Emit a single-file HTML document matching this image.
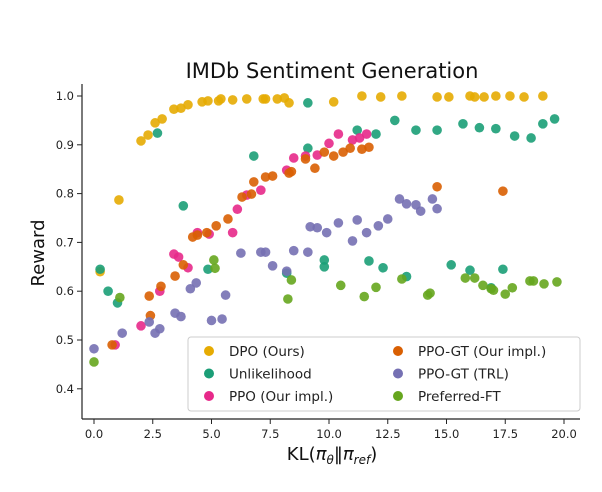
<!DOCTYPE html>
<html><head><meta charset="utf-8"><style>
body{margin:0;background:#fff;}
svg{display:block;font-family:"DejaVu Sans","Liberation Sans",sans-serif;}
</style></head><body>
<svg id="chart" width="602" height="492" xmlns="http://www.w3.org/2000/svg">
<text x="332" y="78" text-anchor="middle" font-size="21" fill="#111">IMDb Sentiment Generation</text>
<text transform="translate(44,253) rotate(-90)" text-anchor="middle" font-size="18" fill="#111">Reward</text>
<text x="332" y="460" text-anchor="middle" font-size="18" fill="#111">KL(<tspan font-style="italic">π</tspan><tspan font-size="12" dy="4" font-style="italic">θ</tspan><tspan dy="-4">‖</tspan><tspan font-style="italic">π</tspan><tspan font-size="12" dy="4" font-style="italic">ref</tspan><tspan dy="-4">)</tspan></text>
<g id="axes"></g>
<g id="marks"></g>
<g id="legend"></g>
</svg>
<script>
const xTicks=[0,2.5,5,7.5,10,12.5,15,17.5,20];
const yTicks=[0.4,0.5,0.6,0.7,0.8,0.9,1.0];
const seriesNames=["DPO (Ours)","Unlikelihood","PPO (Our impl.)","PPO-GT (Our impl.)","PPO-GT (TRL)","Preferred-FT"];
const seriesColors=["#e6ab02","#1b9e77","#e7298a","#d95f02","#7570b3","#66a61e"];
const dpoX=[0.26,1.06,2.0,2.3,2.6,2.9,3.4,3.7,4.0,4.6,4.85,5.3,5.4,5.9,6.5,7.2,7.3,7.8,8.1,8.3,10.2,11.4,12.2,13.1,14.6,15.1,16.0,16.2,16.6,17.1,17.7,18.3,19.1];
const dpoY=[0.64,0.787,0.908,0.92,0.945,0.953,0.973,0.975,0.982,0.988,0.99,0.99,0.994,0.992,0.994,0.994,0.994,0.994,0.996,0.986,0.988,1.0,0.998,1.0,0.998,0.998,1.0,0.998,0.998,1.0,1.0,0.998,1.0];
const unlX=[0.26,0.6,1.0,2.7,3.8,6.8,9.1,9.1,11.2,12.0,12.8,13.7,14.6,15.7,16.4,17.1,17.9,18.6,19.1,19.6,4.85,9.8,9.8,11.7,12.3,13.3,15.2,16.0,16.9,17.4,8.2];
const unlY=[0.645,0.6,0.576,0.924,0.775,0.877,0.986,0.893,0.93,0.922,0.95,0.93,0.93,0.943,0.935,0.933,0.918,0.914,0.943,0.953,0.645,0.65,0.664,0.662,0.648,0.63,0.654,0.643,0.607,0.645,0.637];
const ppoX=[0.9,2.0,2.8,3.4,3.6,4.0,4.4,4.9,5.9,6.1,6.5,7.1,8.2,8.5,9.0,9.5,10.0,10.4,11.0,11.3,11.6];
const ppoY=[0.49,0.529,0.6,0.676,0.67,0.648,0.72,0.717,0.72,0.768,0.797,0.807,0.848,0.873,0.877,0.879,0.903,0.922,0.91,0.914,0.922];
const gtX=[0.77,2.4,2.35,2.85,3.45,3.8,4.2,4.4,4.8,5.2,5.7,6.3,6.7,6.8,7.3,7.6,8.3,8.4,9.0,9.4,9.8,10.2,10.6,10.9,11.4,11.7,14.6,17.4];
const gtY=[0.49,0.55,0.59,0.61,0.631,0.654,0.711,0.715,0.72,0.734,0.748,0.793,0.799,0.824,0.834,0.836,0.842,0.845,0.871,0.852,0.885,0.877,0.885,0.893,0.891,0.895,0.814,0.805];
const trlX=[0.0,1.2,2.35,2.6,2.8,3.45,3.7,4.1,4.35,5.0,5.45,5.6,6.25,7.1,7.3,7.6,8.2,8.5,9.1,9.2,9.5,9.9,10.4,11.0,11.2,11.6,12.1,12.5,13.0,13.3,13.7,13.9,14.4,14.6];
const trlY=[0.482,0.514,0.537,0.514,0.523,0.555,0.548,0.605,0.617,0.54,0.543,0.592,0.678,0.68,0.68,0.652,0.641,0.683,0.68,0.732,0.73,0.72,0.74,0.703,0.746,0.72,0.734,0.748,0.789,0.779,0.777,0.764,0.789,0.769];
const pftX=[0.0,1.1,5.1,5.15,8.4,8.25,10.5,11.5,12.0,13.1,14.2,14.3,15.8,16.2,16.55,16.9,17.0,17.5,17.8,18.55,18.7,19.15,19.7];
const pftY=[0.455,0.587,0.664,0.647,0.623,0.584,0.612,0.589,0.608,0.625,0.592,0.596,0.627,0.627,0.612,0.605,0.602,0.594,0.607,0.621,0.621,0.615,0.619];
const seriesX=[dpoX,unlX,ppoX,gtX,trlX,pftX];
const seriesY=[dpoY,unlY,ppoY,gtY,trlY,pftY];
const dataNames=["dpo-point","unlikelihood-point","ppo-point","ppo-gt-ours-point","ppo-gt-trl-point","preferred-ft-point"];

const NS="http://www.w3.org/2000/svg";
function xs(v){return 94+v*23.5;}
function ys(v){return 96+(1.0-v)*488;}
function mk(tag,attrs,parent){const e=document.createElementNS(NS,tag);for(const k in attrs)e.setAttribute(k,attrs[k]);parent.appendChild(e);return e;}
const axes=document.getElementById('axes');
let l=mk('line',{x1:82,y1:84,x2:82,y2:419,stroke:'#222','stroke-width':1.2},axes);


l=mk('line',{x1:82,y1:419,x2:580,y2:419,stroke:'#222','stroke-width':1.2},axes);


xTicks.forEach(t=>{
  mk('line',{x1:xs(t),y1:419,x2:xs(t),y2:424,stroke:'#222'},axes);
  const tx=mk('text',{x:xs(t),y:438,'text-anchor':'middle','font-size':11.5,fill:'#222'},axes);
  tx.textContent=t.toFixed(1);
  
  
});
yTicks.forEach(t=>{
  mk('line',{x1:77,y1:ys(t),x2:82,y2:ys(t),stroke:'#222'},axes);
  const tx=mk('text',{x:74,y:ys(t)+4,'text-anchor':'end','font-size':11.5,fill:'#222'},axes);
  tx.textContent=t.toFixed(1);
  
  
});
const marks=document.getElementById('marks');
seriesX.forEach((xa,si)=>{
  xa.forEach((xv,i)=>{
    const c=mk('circle',{cx:xs(xv),cy:ys(seriesY[si][i]),r:4.8,fill:seriesColors[si],'fill-opacity':0.9},marks);
    
    
  });
});
const lg=document.getElementById('legend');
const box=mk('rect',{x:188,y:337,width:392,height:74,rx:3,fill:'#fff','fill-opacity':0.85,stroke:'#ccc'},lg);


const order=[0,1,2,3,4,5];
order.forEach((si,k)=>{
  const col=Math.floor(k/3),row=k%3;
  const mx=col?398:209, ty=351+row*22.5;
  const g=mk('g',{},lg);
  
  
  mk('circle',{cx:mx,cy:ty,r:5,fill:seriesColors[si]},g);
  const t=mk('text',{x:mx+20,y:ty+5,'font-size':13.5,fill:'#222'},g);
  t.textContent=seriesNames[si];
});
</script>
</body></html>
